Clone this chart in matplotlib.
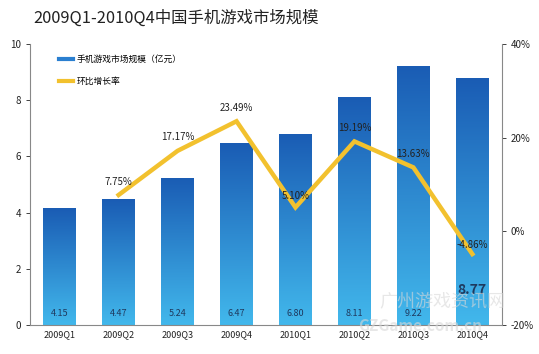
import numpy as np
import matplotlib
matplotlib.use('Agg')
import matplotlib.pyplot as plt
import matplotlib.ticker as mticker
from matplotlib.colors import LinearSegmentedColormap
from matplotlib.lines import Line2D

plt.rcParams['font.family'] = ['Noto Sans CJK SC', 'DejaVu Sans']
plt.rcParams['axes.unicode_minus'] = False

# ── 数据 ──────────────────────────────────
quarters = ['2009Q1', '2009Q2', '2009Q3', '2009Q4', '2010Q1', '2010Q2', '2010Q3', '2010Q4']
market = [4.15, 4.47, 5.24, 6.47, 6.80, 8.11, 9.22, 8.77]
growth = [np.nan, 7.75, 17.17, 23.49, 5.10, 19.19, 13.63, -4.86]

# ── 画布 ──────────────────────────────────
fig = plt.figure(figsize=(5.39, 3.54), dpi=100)
ax = fig.add_axes([0.056, 0.082, 0.875, 0.794])
x = np.arange(len(quarters))

# 渐变柱
cmap = LinearSegmentedColormap.from_list('bar', ['#42b8ec', '#1a5cb4'])
grad = np.linspace(0, 1, 256).reshape(-1, 1)
bars = ax.bar(x, market, width=0.55, color='none', edgecolor='none', zorder=2)
for b in bars:
    x0, w, h = b.get_x(), b.get_width(), b.get_height()
    im = ax.imshow(grad, cmap=cmap, origin='lower', aspect='auto',
                   extent=[x0, x0 + w, 0, h], zorder=2)
    im.set_clip_path(b)

ax.set_xlim(-0.5, len(quarters) - 0.5)
ax.set_ylim(0, 10)
ax.set_yticks([0, 2, 4, 6, 8, 10])
ax.set_xticks(x)
ax.set_xticklabels(quarters, fontsize=6.5, color='#222222')
ax.tick_params(axis='y', labelsize=7, colors='#222222', length=3, width=0.6)
ax.tick_params(axis='x', length=0, pad=4)
for s in ['top', 'right']:
    ax.spines[s].set_visible(False)
for s in ['left', 'bottom']:
    ax.spines[s].set_color('#888888')
    ax.spines[s].set_linewidth(0.8)

# 柱内数值
for i, v in enumerate(market):
    if i == len(market) - 1:
        ax.text(i, 1.25, f'{v:.2f}', ha='center', va='center', fontsize=10,
                fontweight='bold', color='#1f3a5f', zorder=5)
    else:
        ax.text(i, 0.42, f'{v:.2f}', ha='center', va='center', fontsize=6.5,
                color='#1f3a5f', zorder=5)

# 环比增长率
ax2 = ax.twinx()
ax2.set_ylim(-20, 40)
ax2.set_yticks([-20, 0, 20, 40])
ax2.yaxis.set_major_formatter(mticker.FuncFormatter(lambda v, p: f'{v:.0f}%'))
ax2.tick_params(axis='y', labelsize=7, colors='#222222', length=3, width=0.6)
for s in ['top', 'left', 'bottom']:
    ax2.spines[s].set_visible(False)
ax2.spines['right'].set_color('#888888')
ax2.spines['right'].set_linewidth(0.8)
ax2.plot(x, growth, color='#f2c12e', linewidth=3.2, solid_joinstyle='miter', zorder=3)

offsets = [0, 1.8, 1.8, 1.8, 1.3, 1.8, 1.8, 0.8]
for i, g in enumerate(growth):
    if np.isnan(g):
        continue
    ax2.text(i, g + offsets[i], f'{g:.2f}%', ha='center', va='bottom',
             fontsize=7, color='#222222', zorder=6)

# 图例
handles = [Line2D([0], [0], color='#2a7fd0', linewidth=3),
           Line2D([0], [0], color='#f2c12e', linewidth=3)]
ax.legend(handles, ['手机游戏市场规模（亿元）', '环比增长率'], loc='upper left',
          bbox_to_anchor=(0.045, 0.99), frameon=False, fontsize=6.3,
          handlelength=1.6, handletextpad=0.4, labelspacing=1.5)

# 标题
fig.text(0.062, 0.95, '2009Q1-2010Q4中国手机游戏市场规模', fontsize=11.8,
         color='#222222', va='center')

# 水印
fig.text(0.82, 0.15, '广州游戏资讯网', fontsize=13, color='#d8d8d8',
         alpha=0.6, ha='center', va='center', zorder=10)
fig.text(0.78, 0.08, 'GZGame.com.cn', fontsize=11, color='#d8d8d8',
         alpha=0.6, ha='center', va='center', zorder=10, fontweight='bold')

fig.savefig('out.png', dpi=100)
